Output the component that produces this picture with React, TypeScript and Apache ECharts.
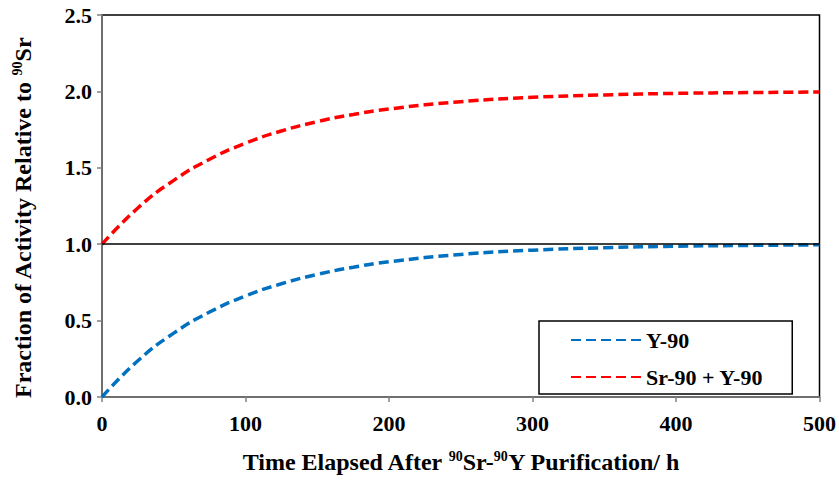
import React, { useEffect, useRef } from "react";
import * as echarts from "echarts";

const hours = [0, 25, 50, 75, 100, 125, 150, 175, 200, 250, 300, 350, 400, 450, 500];
const y90 = [0, 0.237, 0.418, 0.556, 0.661, 0.741, 0.802, 0.849, 0.885, 0.933, 0.961, 0.977, 0.987, 0.992, 0.996];
const srPlusY = [1.0, 1.237, 1.418, 1.556, 1.661, 1.741, 1.802, 1.849, 1.885, 1.933, 1.961, 1.977, 1.987, 1.992, 1.996];
const seriesNames = ["Y-90", "Sr-90 + Y-90"];
const seriesColors = ["#0070C0", "#FF0000"];
const srReference = 1.0;

const FONT = "'Liberation Serif', 'Times New Roman', serif";

export default function App() {
  const ref = useRef<HTMLDivElement>(null);
  useEffect(() => {
    if (!ref.current) return;
    const chart = echarts.init(ref.current, undefined, { renderer: "svg" });
    const sup = { fontSize: 14, fontWeight: "bold", fontFamily: FONT, color: "#000", lineHeight: 14, verticalAlign: "top" };
    chart.setOption({
      animation: false,
      backgroundColor: "#fff",
      grid: { left: 102, right: 19, top: 15, bottom: 82, show: true, borderColor: "#000", borderWidth: 1.5 },
      legend: {
        orient: "vertical",
        left: 539,
        top: 321,
        padding: [7, 29, 5, 31],
        itemGap: 13,
        itemWidth: 70,
        itemHeight: 14,
        borderColor: "#000",
        borderWidth: 1.5,
        backgroundColor: "#fff",
        itemStyle: { color: "transparent", borderWidth: 0 },
        textStyle: { fontFamily: FONT, fontWeight: "bold", fontSize: 22, lineHeight: 24, color: "#000" },
        data: seriesNames,
      },
      xAxis: {
        type: "value",
        min: 0,
        max: 500,
        interval: 100,
        name: "Time Elapsed After {sup|90}Sr-{sup|90}Y Purification/ h",
        nameLocation: "middle",
        nameGap: 52,
        nameTextStyle: {
          fontFamily: FONT, fontWeight: "bold", fontSize: 24, color: "#000", lineHeight: 26,
          rich: { sup },
        },
        axisLine: { show: true, lineStyle: { color: "#808080", width: 1.5 } },
        axisTick: { show: true, length: 5, lineStyle: { color: "#808080", width: 1.5 } },
        axisLabel: { fontFamily: FONT, fontWeight: "bold", fontSize: 22, color: "#000", margin: 15 },
        splitLine: { show: false },
      },
      yAxis: {
        type: "value",
        min: 0,
        max: 2.5,
        interval: 0.5,
        name: "Fraction of Activity Relative to {sup|90}Sr",
        nameLocation: "middle",
        nameGap: 66,
        nameTextStyle: {
          fontFamily: FONT, fontWeight: "bold", fontSize: 24, color: "#000", lineHeight: 26,
          padding: [0, 24, 0, 0],
          rich: { sup },
        },
        axisLine: { show: true, lineStyle: { color: "#808080", width: 1.5 } },
        axisTick: { show: true, length: 5, lineStyle: { color: "#808080", width: 1.5 } },
        axisLabel: {
          fontFamily: FONT, fontWeight: "bold", fontSize: 22, color: "#000", margin: 10,
          formatter: (v: number) => v.toFixed(1),
        },
        splitLine: { show: false },
      },
      series: [
        {
          name: seriesNames[0],
          type: "line",
          data: hours.map((h, i) => [h, y90[i]]),
          smooth: true,
          showSymbol: false,
          symbol: "none",
          color: seriesColors[0],
          lineStyle: { color: seriesColors[0], width: 3.5, type: [10, 5] },
          z: 3,
          markLine: {
            silent: true,
            symbol: "none",
            label: { show: false },
            lineStyle: { color: "#000", width: 1.5, type: "solid" },
            data: [{ yAxis: srReference }],
          },
        },
        {
          name: seriesNames[1],
          type: "line",
          data: hours.map((h, i) => [h, srPlusY[i]]),
          smooth: true,
          showSymbol: false,
          symbol: "none",
          color: seriesColors[1],
          lineStyle: { color: seriesColors[1], width: 3.5, type: [10, 5] },
          z: 3,
        },
      ],
    });
    return () => chart.dispose();
  }, []);
  return <div ref={ref} style={{ position: "fixed", left: 0, top: 0, width: 839, height: 480 }} />;
}
